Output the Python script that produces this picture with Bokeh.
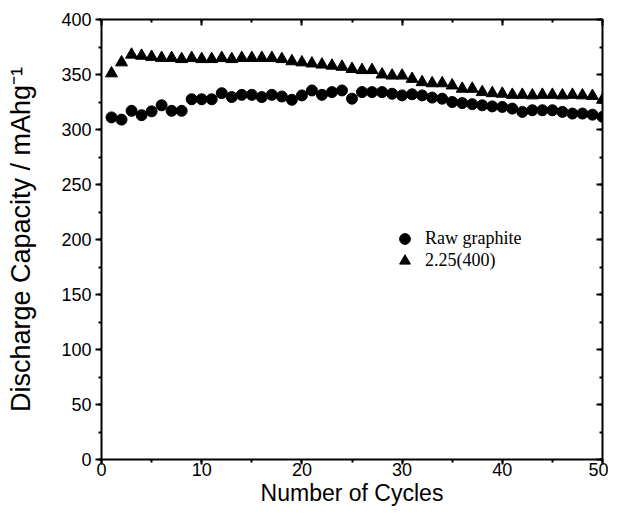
from bokeh.plotting import figure
from bokeh.models import (LinearAxis, Legend, LegendItem, Range1d,
                          SingleIntervalTicker, CustomJSTickFormatter)
from bokeh.embed import file_html
from bokeh.resources import INLINE

cycles = list(range(1, 51))
raw_graphite = [311, 309, 317, 313, 316.5, 322, 317, 317, 327.5, 327.5,
                327.5, 333, 329.5, 331.5, 331.5, 329.5, 331.5, 330, 327, 331,
                335.5, 331.5, 334, 335.5, 328, 334, 334, 334, 332.5, 331,
                332, 331, 329, 328, 325, 324, 323, 322, 321, 320.5,
                319, 316, 317.5, 317.5, 317.5, 316, 314.5, 314.5, 313.5, 311.5]
sample_225_400 = [351, 361, 368, 367, 366, 365, 365, 364, 365, 364,
                  364, 365, 364, 365, 365, 365, 365, 364, 362, 361,
                  360, 359, 358, 357, 355, 354, 354, 350, 349, 349,
                  346, 343, 342, 342, 340, 337, 337, 334, 333, 332.5,
                  331.5, 331.5, 331, 331.5, 331.5, 331, 331.5, 331, 330.5, 327]
series_labels = ["Raw graphite", "2.25(400)"]
x_label = "Number of Cycles"
y_label = "Discharge Capacity / mAhg\u207b\u00b9"

p = figure(width=608, height=510, output_backend="svg", toolbar_location=None,
           x_range=Range1d(0, 50), y_range=Range1d(0, 400),
           min_border_left=101, min_border_right=6, min_border_top=19,
           min_border_bottom=51)
p.grid.visible = False
p.outline_line_color = None
p.background_fill_color = "white"
p.border_fill_color = "white"

r1 = p.scatter(cycles, raw_graphite, marker="circle", size=11,
               fill_color="black", line_color="black")
r2 = p.scatter(cycles, sample_225_400, marker="triangle", size=12,
               fill_color="black", line_color="black")


def style(ax, ticker, inward, labels):
    ax.ticker = ticker
    ax.axis_line_width = 2
    ax.axis_line_color = "black"
    ax.major_tick_line_width = 2
    ax.minor_tick_line_width = 2
    ax.major_tick_line_color = "black"
    ax.minor_tick_line_color = "black"
    if inward:
        ax.major_tick_in = 6
        ax.major_tick_out = 0
        ax.minor_tick_in = 3
        ax.minor_tick_out = 0
    else:
        ax.major_tick_in = 0
        ax.major_tick_out = 6
        ax.minor_tick_in = 0
        ax.minor_tick_out = 3
    if labels:
        ax.major_label_text_font = "Liberation Sans"
        ax.major_label_text_font_size = "18px"
        ax.major_label_text_color = "black"
        ax.axis_label_text_font = "Liberation Sans"
        ax.axis_label_text_font_style = "normal"
        ax.axis_label_text_color = "black"
    else:
        ax.formatter = CustomJSTickFormatter(code="return ''")
        ax.major_label_text_font_size = "1px"
        ax.major_label_text_color = None
        ax.major_label_standoff = 0


xa = p.xaxis[0]
ya = p.yaxis[0]
style(xa, SingleIntervalTicker(interval=10, num_minor_ticks=2), False, True)
style(ya, SingleIntervalTicker(interval=50, num_minor_ticks=2), False, True)
xa.axis_label = x_label
ya.axis_label = y_label
xa.major_tick_out = 5
xa.major_label_standoff = -2
xa.axis_label_standoff = 1
xa.axis_label_text_font_size = "23px"
ya.major_label_standoff = 4
ya.axis_label_standoff = 22
ya.axis_label_text_font_size = "27px"

top = LinearAxis()
style(top, SingleIntervalTicker(interval=10, num_minor_ticks=2), True, False)
p.add_layout(top, "above")
right = LinearAxis()
style(right, SingleIntervalTicker(interval=50, num_minor_ticks=2), True, False)
p.add_layout(right, "right")

legend_rows = [(series_labels[0], r1, 207), (series_labels[1], r2, 185)]
for label, rend, bottom in legend_rows:
    lg = Legend(items=[LegendItem(label=label, renderers=[rend])],
                location=(290, bottom), padding=0, margin=0, spacing=0,
                glyph_width=27, glyph_height=27, label_standoff=7,
                label_text_font="Liberation Serif", label_text_font_size="18px",
                label_text_color="black",
                border_line_alpha=0, background_fill_alpha=0)
    p.add_layout(lg)

open("out.html", "w").write(file_html(p, INLINE))
